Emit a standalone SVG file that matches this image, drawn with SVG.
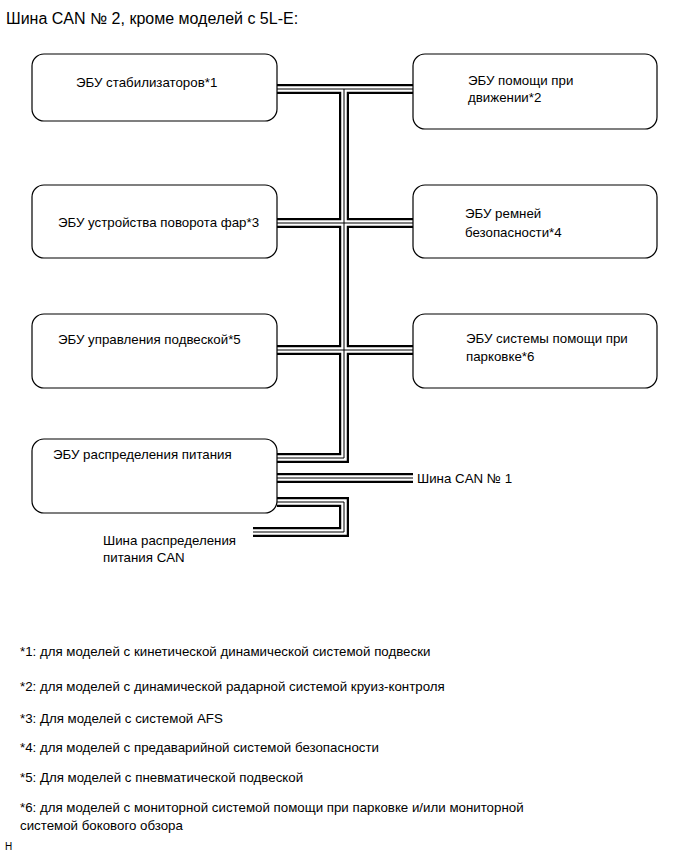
<svg xmlns="http://www.w3.org/2000/svg" width="690" height="854" viewBox="0 0 690 854">
<style>
text{font-family:"Liberation Sans",Arial,sans-serif;fill:#000}
.t{font-size:16px}
.n{font-size:13.3px}
.f{font-size:13.3px}
.box{fill:#fff;stroke:#000;stroke-width:1.2}
.c1{fill:none;stroke:#000;stroke-width:10}
.c2{fill:none;stroke:#fff;stroke-width:5.5}
.c3{fill:none;stroke:#000;stroke-width:1}
</style>
<rect width="690" height="854" fill="#fff"/>
<text class="t" x="6" y="24">Шина CAN № 2, кроме моделей с 5L-E:</text>
<g id="connectors">
<path id="bus" class="c1" d="M277,89 H413 M344,89 V458 H277 M277,223 H413 M277,350 H413 M277,478 H413 M277,502 H344 V532 H253"/>
<path class="c2" d="M277,89 H413 M344,89 V458 H277 M277,223 H413 M277,350 H413 M277,478 H413 M277,502 H344 V532 H253"/>
<path class="c3" d="M277,89 H413 M344,89 V458 H277 M277,223 H413 M277,350 H413 M277,478 H413 M277,502 H344 V532 H253"/>
</g>
<g id="n1"><rect class="box" x="32" y="54" width="245" height="67" rx="12"/><text class="n" x="76" y="87">ЭБУ стабилизаторов*1</text></g>
<g id="n2"><rect class="box" x="413" y="54" width="244" height="75" rx="12"/><text class="n" x="468" y="85">ЭБУ помощи при</text><text class="n" x="468" y="102">движении*2</text></g>
<g id="n3"><rect class="box" x="32" y="185" width="245" height="73" rx="12"/><text class="n" x="58" y="227">ЭБУ устройства поворота фар*3</text></g>
<g id="n4"><rect class="box" x="413" y="185" width="244" height="73" rx="12"/><text class="n" x="465" y="218">ЭБУ ремней</text><text class="n" x="465" y="237">безопасности*4</text></g>
<g id="n5"><rect class="box" x="32" y="314" width="245" height="74" rx="12"/><text class="n" x="58" y="344">ЭБУ управления подвеской*5</text></g>
<g id="n6"><rect class="box" x="413" y="314" width="244" height="74" rx="12"/><text class="n" x="466" y="343">ЭБУ системы помощи при</text><text class="n" x="466" y="361">парковке*6</text></g>
<g id="n7"><rect class="box" x="32" y="439" width="245" height="74" rx="12"/><text class="n" x="53" y="459">ЭБУ распределения питания</text></g>
<g id="labels">
<text class="n" x="417" y="483">Шина CAN № 1</text>
<text class="n" x="103" y="545">Шина распределения</text>
<text class="n" x="103" y="562">питания CAN</text>
</g>
<g id="notes">
<text class="f" x="20" y="656">*1: для моделей с кинетической динамической системой подвески</text>
<text class="f" x="20" y="691">*2: для моделей с динамической радарной системой круиз-контроля</text>
<text class="f" x="20" y="723">*3: Для моделей с системой AFS</text>
<text class="f" x="20" y="752">*4: для моделей с предаварийной системой безопасности</text>
<text class="f" x="20" y="782">*5: Для моделей с пневматической подвеской</text>
<text class="f" x="20" y="812">*6: для моделей с мониторной системой помощи при парковке и/или мониторной</text>
<text class="f" x="20" y="830">системой бокового обзора</text>
<text style="font-size:10px" x="5" y="850">H</text>
</g>
</svg>
